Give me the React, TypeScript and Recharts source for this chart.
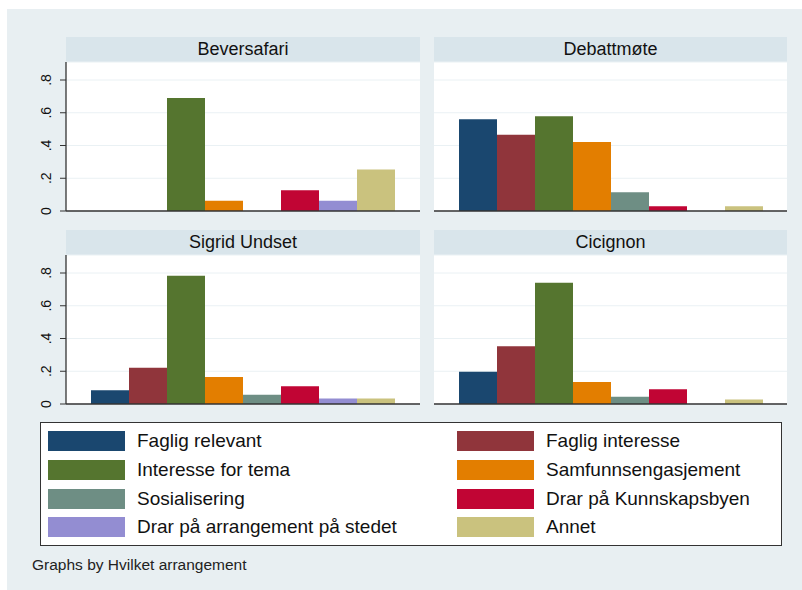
import React from "react";
import { BarChart, Bar, XAxis, YAxis, CartesianGrid, ReferenceLine } from "recharts";

const categories = [
  "Faglig relevant",
  "Faglig interesse",
  "Interesse for tema",
  "Samfunnsengasjement",
  "Sosialisering",
  "Drar på Kunnskapsbyen",
  "Drar på arrangement på stedet",
  "Annet",
];
const seriesKeys = ["fr", "fi", "it", "se", "so", "dk", "da", "an"];
const colors = ["#1A476F", "#90353B", "#55752F", "#E37E00", "#6E8E84", "#C10534", "#938DD2", "#CAC27E"];

const panelTitles = ["Beversafari", "Debattmøte", "Sigrid Undset", "Cicignon"];
const beversafari = [0, 0, 0.69, 0.063, 0, 0.126, 0.063, 0.253];
const debattmote = [0.561, 0.465, 0.579, 0.422, 0.114, 0.029, 0, 0.029];
const sigridUndset = [0.084, 0.222, 0.784, 0.165, 0.057, 0.108, 0.033, 0.033];
const cicignon = [0.197, 0.352, 0.741, 0.134, 0.045, 0.09, 0, 0.028];
const panelValues = [beversafari, debattmote, sigridUndset, cicignon];

const yTicks = [0, 0.2, 0.4, 0.6, 0.8];
const yTickLabels = ["0", ".2", ".4", ".6", ".8"];
const footnote = "Graphs by Hvilket arrangement";

const FONT = "'Liberation Sans', Arial, sans-serif";
const BG = "#E8EFF2";
const STRIP = "#D9E5EB";

const YTick = (props: any) => {
  const { y, payload } = props;
  const idx = yTicks.indexOf(payload.value);
  const label = idx >= 0 ? yTickLabels[idx] : String(payload.value);
  return (
    <text
      transform={`translate(21, ${y}) rotate(-90)`}
      textAnchor="middle"
      fontSize={14}
      fill="#111"
      fontFamily={FONT}
    >
      {label}
    </text>
  );
};

function Panel({ title, values, plotLeft, plotTop, plotWidth, showY }: any) {
  const row: any = { panel: title };
  seriesKeys.forEach((k, i) => (row[k] = values[i]));
  const data = [row];
  const plotHeight = 149;
  const axisW = 36;
  return (
    <>
      <div
        style={{
          position: "absolute",
          left: plotLeft,
          top: plotTop - 25,
          width: plotWidth,
          height: 25,
          background: STRIP,
          fontFamily: FONT,
          fontSize: 18,
          lineHeight: "25px",
          textAlign: "center",
          color: "#111",
        }}
      >
        {title}
      </div>
      <div style={{ position: "absolute", left: plotLeft - axisW, top: plotTop - 5 }}>
        <BarChart
          width={axisW + plotWidth}
          height={plotHeight + 10}
          data={data}
          margin={{ top: 5, bottom: 5, right: 0, left: showY ? 0 : axisW }}
          barCategoryGap={25}
          barGap={0}
        >
          <CartesianGrid vertical={false} stroke="#EAF1F4" fill="#FFFFFF" strokeWidth={1} />
          <XAxis dataKey="panel" hide />
          <YAxis
            hide={!showY}
            width={axisW}
            domain={[0, 0.91]}
            ticks={yTicks}
            allowDataOverflow
            axisLine={{ stroke: "#333", strokeWidth: 1.3 }}
            tickLine={{ stroke: "#333" }}
            tickSize={6}
            tick={<YTick />}
            interval={0}
          />
          {seriesKeys.map((k, i) => (
            <Bar key={k} dataKey={k} name={categories[i]} fill={colors[i]} isAnimationActive={false} />
          ))}
          <ReferenceLine y={0} stroke="#333" strokeWidth={1.5} />
        </BarChart>
      </div>
    </>
  );
}

export default function App() {
  const positions = [
    { plotLeft: 66, plotTop: 62, plotWidth: 354, showY: true },
    { plotLeft: 434, plotTop: 62, plotWidth: 353, showY: false },
    { plotLeft: 66, plotTop: 255, plotWidth: 354, showY: true },
    { plotLeft: 434, plotTop: 255, plotWidth: 353, showY: false },
  ];
  const legendCols = [48, 457];
  const legendRows = [431, 460, 488.5, 517];
  return (
    <div style={{ position: "absolute", left: 0, top: 0, width: 802, height: 590, background: "#fff" }}>
      <div style={{ position: "absolute", left: 7, top: 9, width: 795, height: 581, background: BG }} />
      {panelTitles.map((t, i) => (
        <Panel key={t} title={t} values={panelValues[i]} {...positions[i]} />
      ))}
      <div
        style={{
          position: "absolute",
          left: 40,
          top: 422,
          width: 742,
          height: 124,
          boxSizing: "border-box",
          border: "1px solid #333",
          background: "#fff",
        }}
      />
      {categories.map((c, i) => {
        const col = i % 2;
        const r = Math.floor(i / 2);
        return (
          <React.Fragment key={c}>
            <div
              style={{
                position: "absolute",
                left: legendCols[col],
                top: legendRows[r],
                width: 77,
                height: 20,
                background: colors[i],
              }}
            />
            <div
              style={{
                position: "absolute",
                left: legendCols[col] + 89,
                top: legendRows[r] - 4,
                height: 28,
                lineHeight: "28px",
                fontFamily: FONT,
                fontSize: 19,
                color: "#111",
                whiteSpace: "nowrap",
              }}
            >
              {c}
            </div>
          </React.Fragment>
        );
      })}
      <div
        style={{
          position: "absolute",
          left: 32,
          top: 555,
          height: 20,
          lineHeight: "20px",
          fontFamily: FONT,
          fontSize: 15.5,
          color: "#222",
          whiteSpace: "nowrap",
        }}
      >
        {footnote}
      </div>
    </div>
  );
}
